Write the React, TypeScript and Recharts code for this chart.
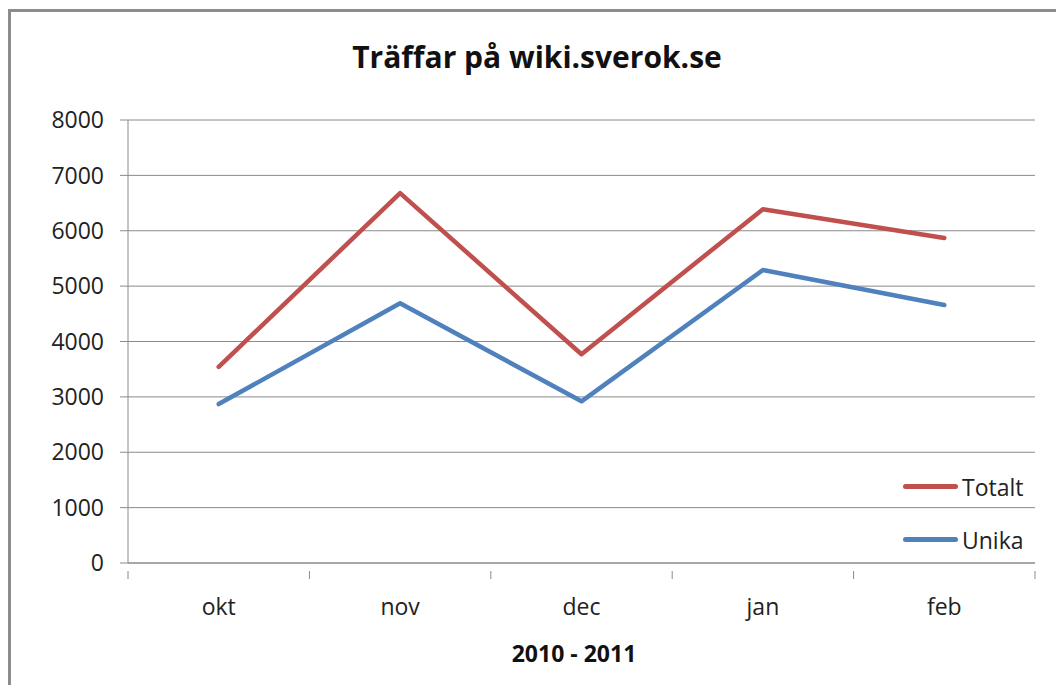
import { CartesianGrid, Line, LineChart, XAxis, YAxis } from "recharts";

// Månader (okt 2010 - feb 2011)
const months = ["okt", "nov", "dec", "jan", "feb"];
const totalt = [3540, 6680, 3770, 6390, 5870];
const unika = [2870, 4690, 2920, 5290, 4660];
const yTicks = [0, 1000, 2000, 3000, 4000, 5000, 6000, 7000, 8000];

const RED = "#C0504D";
const BLUE = "#4F81BD";
const GRID = "#8a8a8a";
const FONT = "'Open Sans', sans-serif";
const FS = 23;

// x position i + 0.5 so each month sits in the middle of its band
const data = months.map((m, i) => ({
  x: i + 0.5,
  month: m,
  totalt: totalt[i],
  unika: unika[i],
}));

const xTicks = Array.from({ length: months.length * 2 + 1 }, (_, i) => i / 2);

const MonthTick = (props: any) => {
  const { x, y, payload } = props;
  const v = payload.value as number;
  if (Number.isInteger(v)) {
    return <line x1={x} y1={y} x2={x} y2={y + 8} stroke={GRID} strokeWidth={1} />;
  }
  const label = months[Math.floor(v)];
  return (
    <text x={x} y={y + 44} textAnchor="middle" fontSize={FS} fill="#222" fontFamily={FONT}>
      {label}
    </text>
  );
};

const series = [
  { name: "Totalt", color: RED },
  { name: "Unika", color: BLUE },
];

export default function App() {
  return (
    <div style={{ position: "absolute", left: 0, top: 0, width: 1056, height: 685, overflow: "hidden", background: "#fff" }}>
      <div
        style={{
          position: "absolute",
          left: 8,
          top: 9,
          width: 1100,
          height: 720,
          border: "3px solid #8c8c8c",
        }}
      />
      <div
        style={{
          position: "absolute",
          left: 0,
          width: 1074,
          top: 36,
          textAlign: "center",
          fontFamily: FONT,
          fontWeight: 700,
          fontSize: 30,
          color: "#111",
        }}
      >
        Träffar på wiki.sverok.se
      </div>
      <div
        style={{
          position: "absolute",
          left: 0,
          width: 1148,
          top: 637,
          textAlign: "center",
          fontFamily: FONT,
          fontWeight: 700,
          fontSize: 23,
          color: "#111",
        }}
      >
        2010 - 2011
      </div>
      <div style={{ position: "absolute", left: 0, top: 0 }}>
        <LineChart width={1056} height={685} data={data} margin={{ top: 120, right: 21, bottom: 62, left: 0 }}>
          <CartesianGrid horizontal vertical={false} stroke={GRID} />
          <XAxis
            dataKey="x"
            type="number"
            domain={[0, months.length]}
            ticks={xTicks}
            interval={0}
            tickLine={false}
            axisLine={{ stroke: GRID }}
            tick={<MonthTick />}
            height={60}
          />
          <YAxis
            domain={[0, 8000]}
            ticks={yTicks}
            interval={0}
            width={128}
            tickSize={8}
            tickMargin={16}
            tickLine={{ stroke: GRID }}
            axisLine={{ stroke: GRID }}
            tick={{ fontSize: FS, fill: "#222", fontFamily: FONT }}
          />
          <Line
            dataKey="totalt"
            name="Totalt"
            stroke={RED}
            strokeWidth={4.5}
            strokeLinecap="round"
            strokeLinejoin="round"
            dot={false}
            isAnimationActive={false}
          />
          <Line
            dataKey="unika"
            name="Unika"
            stroke={BLUE}
            strokeWidth={4.5}
            strokeLinecap="round"
            strokeLinejoin="round"
            dot={false}
            isAnimationActive={false}
          />
        </LineChart>
      </div>
      <div style={{ position: "absolute", left: 903, top: 460, fontFamily: FONT, fontSize: FS, color: "#222" }}>
        {series.map((it) => (
          <div key={it.name} style={{ display: "flex", alignItems: "center", height: 53 }}>
            <div style={{ width: 55, height: 5, borderRadius: 3, background: it.color, marginRight: 4 }} />
            <span>{it.name}</span>
          </div>
        ))}
      </div>
    </div>
  );
}
